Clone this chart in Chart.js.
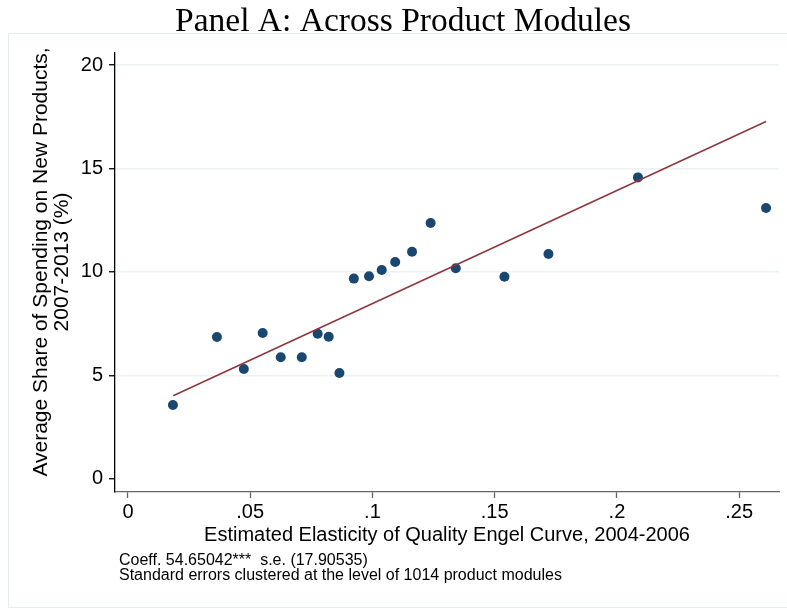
<!DOCTYPE html>
<html>
<head>
<meta charset="utf-8">
<script src="https://cdn.jsdelivr.net/npm/chart.js@4.4.0/dist/chart.umd.min.js"></script>
<style>
  html, body { margin: 0; padding: 0; background: #fff; }
</style>
</head>
<body>
<canvas id="myChart" width="787" height="609"></canvas>
<script>
// binned scatter: elasticity of quality Engel curve vs share of spending on new products
var elasticity = [0.0184, 0.0364, 0.0474, 0.0551, 0.0625, 0.0711, 0.0776, 0.0821, 0.0865, 0.0924,
                  0.0986, 0.1038, 0.1093, 0.1162, 0.1238, 0.1341, 0.1540, 0.1720, 0.2086, 0.2610];
var newShare = [3.57, 6.86, 5.31, 7.05, 5.88, 5.88, 7.02, 6.87, 5.12, 9.68,
                9.79, 10.10, 10.48, 10.98, 12.37, 10.18, 9.77, 10.87, 14.57, 13.09];
// fitted line end points
var fitX = [0.0185, 0.2610];
var fitY = [4.02, 17.27];
var xTicks = [0, 0.05, 0.1, 0.15, 0.2, 0.25];
var yTicks = [0, 5, 10, 15, 20];

var sans = '"Liberation Sans", Arial, sans-serif';

function toPoints(xs, ys) {
  return xs.map(function (x, i) { return { x: x, y: ys[i] }; });
}

var textPlugin = {
  id: 'stataText',
  beforeDraw: function (chart) {
    var c = chart.ctx;
    c.save();
    c.fillStyle = '#fff';
    c.fillRect(0, 0, chart.width, chart.height);
    c.strokeStyle = '#e8eeef';
    c.lineWidth = 1;
    c.strokeRect(8.5, 33.5, 800, 574);
    c.restore();
  },
  afterDraw: function (chart) {
    var c = chart.ctx;
    c.save();
    c.fillStyle = '#000';
    // title
    c.font = '33.5px "Liberation Serif", "DejaVu Serif", serif';
    c.textAlign = 'center';
    c.textBaseline = 'alphabetic';
    c.fillText('Panel A: Across Product Modules', 403, 31);

    // x axis title
    c.font = '20px ' + sans;
    c.fillText('Estimated Elasticity of Quality Engel Curve, 2004-2006', 447, 541);

    // y axis title
    c.save();
    c.font = '21px ' + sans;
    c.translate(0, 262);
    c.rotate(-Math.PI / 2);
    c.textBaseline = 'middle';
    c.fillText('Average Share of Spending on New Products,', 0, 41);
    c.fillText('2007-2013 (%)', 0, 62);
    c.restore();

    // notes
    c.font = '16px ' + sans;
    c.textAlign = 'left';
    c.fillText('Coeff. 54.65042***  s.e. (17.90535)', 119, 565);
    c.fillText('Standard errors clustered at the level of 1014 product modules', 119, 580);
    c.restore();
  }
};

var ctx = document.getElementById('myChart').getContext('2d');
var myChart = new Chart(ctx, {
  type: 'scatter',
  data: {
    datasets: [{
      label: 'bins',
      data: toPoints(elasticity, newShare),
      backgroundColor: '#1a476f',
      borderColor: '#1a476f',
      borderWidth: 0,
      pointRadius: 5,
      order: 2
    }, {
      type: 'line',
      label: 'fit',
      data: toPoints(fitX, fitY),
      borderColor: '#90353b',
      borderWidth: 1.5,
      pointRadius: 0,
      fill: false,
      order: 1
    }]
  },
  options: {
    responsive: false,
    devicePixelRatio: 1,
    animation: false,
    events: [],
    layout: { padding: { top: 53, left: 0, right: 8, bottom: 77 } },
    plugins: {
      legend: { display: false },
      tooltip: { enabled: false },
      title: { display: false }
    },
    scales: {
      x: {
        type: 'linear',
        min: -0.0053,
        max: 0.2663,
        afterBuildTicks: function (s) { s.ticks = xTicks.map(function (v) { return { value: v }; }); },
        afterFit: function (s) { s.height = 40; },
        border: { color: '#666', width: 1.3 },
        grid: { drawOnChartArea: false, tickLength: 6, tickColor: '#666', tickWidth: 1.3 },
        ticks: {
          color: '#000',
          padding: 2,
          maxRotation: 0,
          font: { family: sans, size: 20, lineHeight: 1.2 },
          callback: function (v) { return v === 0 ? '0' : String(v).replace(/^0/, ''); }
        }
      },
      y: {
        type: 'linear',
        min: -0.63,
        max: 20.58,
        afterBuildTicks: function (s) { s.ticks = yTicks.map(function (v) { return { value: v }; }); },
        afterFit: function (s) { s.width = 115; },
        border: { color: '#000', width: 1.3 },
        grid: {
          color: function (c) { return c.tick && c.tick.value === 0 ? 'rgba(0,0,0,0)' : '#eaf2f3'; },
          lineWidth: 1.5,
          tickLength: 6,
          tickColor: '#000',
          tickWidth: 1.3
        },
        ticks: {
          color: '#000',
          padding: 6,
          font: { family: sans, size: 20, lineHeight: 1.2 }
        }
      }
    }
  },
  plugins: [textPlugin]
});
</script>
</body>
</html>
